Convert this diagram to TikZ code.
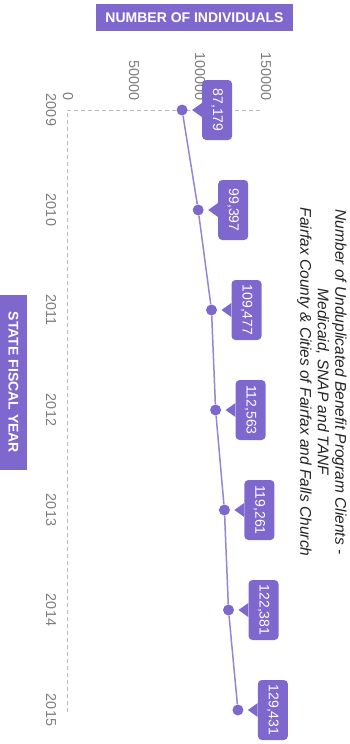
\documentclass[tikz,border=0pt]{standalone}
\usepackage{fontspec}
\setmainfont{Liberation Sans}
\usepackage{graphicx}
\definecolor{pur}{RGB}{126,104,206}
\definecolor{purline}{RGB}{150,132,214}
\definecolor{gridgrey}{RGB}{185,185,185}
\definecolor{ticktext}{RGB}{125,125,125}
\definecolor{titletext}{RGB}{35,35,35}
\begin{document}
\begin{tikzpicture}[x=1pt,y=1pt,
  tick/.style={font=\fontsize{14.4}{16}\selectfont, text=ticktext, inner sep=0pt},
  callout/.style={fill=pur, rounded corners=4pt, minimum width=30pt, minimum height=60pt, inner sep=0pt, text=white, font=\fontsize{14}{16}\selectfont},
  dot/.style={circle, fill=pur, minimum size=11pt, inner sep=0pt},
  axisbox/.style={fill=pur, text=white, font=\fontsize{14}{16}\selectfont\bfseries, inner sep=0pt},
  grid/.style={gridgrey, line width=0.8pt, dash pattern=on 4pt off 3pt},
  dataline/.style={purline, line width=1.5pt}]
\useasboundingbox (0,0) rectangle (350,-744);
% axes
\coordinate (o) at (67,-110);
\coordinate (yend) at (67,-712);
\coordinate (xend) at (262,-110);
\draw[grid] (yend) -- (o) -- (xend);
% value ticks
\node[tick, anchor=south] (v0) at (68,-101) {\rotatebox{-90}{0}};
\node[tick, anchor=south] (v1) at (134,-101) {\rotatebox{-90}{50000}};
\node[tick, anchor=south] (v2) at (200,-101) {\rotatebox{-90}{100000}};
\node[tick, anchor=south] (v3) at (266,-101) {\rotatebox{-90}{150000}};
% year ticks
\node[tick] (y0) at (51,-110) {\rotatebox{-90}{2009}};
\node[tick] (y1) at (51,-210) {\rotatebox{-90}{2010}};
\node[tick] (y2) at (51,-310) {\rotatebox{-90}{2011}};
\node[tick] (y3) at (51,-410) {\rotatebox{-90}{2012}};
\node[tick] (y4) at (51,-510) {\rotatebox{-90}{2013}};
\node[tick] (y5) at (51,-610) {\rotatebox{-90}{2014}};
\node[tick] (y6) at (51,-710) {\rotatebox{-90}{2015}};
% dots
\node[dot] (d0) at (182.1,-110) {};
\node[dot] (d1) at (198.2,-210) {};
\node[dot] (d2) at (211.5,-310) {};
\node[dot] (d3) at (215.6,-410) {};
\node[dot] (d4) at (224.4,-510) {};
\node[dot] (d5) at (228.5,-610) {};
\node[dot] (d6) at (237.9,-710) {};
\draw[dataline] (d0) -- (d1) -- (d2) -- (d3) -- (d4) -- (d5) -- (d6);
% callouts
\node[callout] (c0) at (217.1,-110) {\rotatebox{-90}{87,179}};
\node[callout] (c1) at (233.2,-210) {\rotatebox{-90}{99,397}};
\node[callout] (c2) at (246.5,-310) {\rotatebox{-90}{109,477}};
\node[callout] (c3) at (250.6,-410) {\rotatebox{-90}{112,563}};
\node[callout] (c4) at (259.4,-510) {\rotatebox{-90}{119,261}};
\node[callout] (c5) at (263.5,-610) {\rotatebox{-90}{122,381}};
\node[callout] (c6) at (272.9,-710) {\rotatebox{-90}{129,431}};
\coordinate (t0) at (192.1,-110);
\coordinate (t1) at (208.2,-210);
\coordinate (t2) at (221.5,-310);
\coordinate (t3) at (225.6,-410);
\coordinate (t4) at (234.4,-510);
\coordinate (t5) at (238.5,-610);
\coordinate (t6) at (247.9,-710);
\foreach \k in {0,...,6}{
  \fill[pur] ([yshift=7pt]c\k.west) -- (t\k) -- ([yshift=-7pt]c\k.west) -- cycle;
}
% title
\node[rotate=-90, align=center, font=\fontsize{15.5}{17.5}\selectfont\itshape, text=titletext] (title) at (322,-382)
  {Number of Unduplicated Benefit Program Clients -\\ Medicaid, SNAP and TANF\\ Fairfax County \& Cities of Fairfax and Falls Church};
% axis labels
\node[axisbox, minimum width=197pt, minimum height=27pt] (xlab) at (194.5,-17.5) {NUMBER OF INDIVIDUALS};
\node[axisbox, minimum width=27pt, minimum height=175pt] (ylab) at (13.5,-382.5) {\rotatebox{-90}{STATE FISCAL YEAR}};
\end{tikzpicture}
\end{document}
